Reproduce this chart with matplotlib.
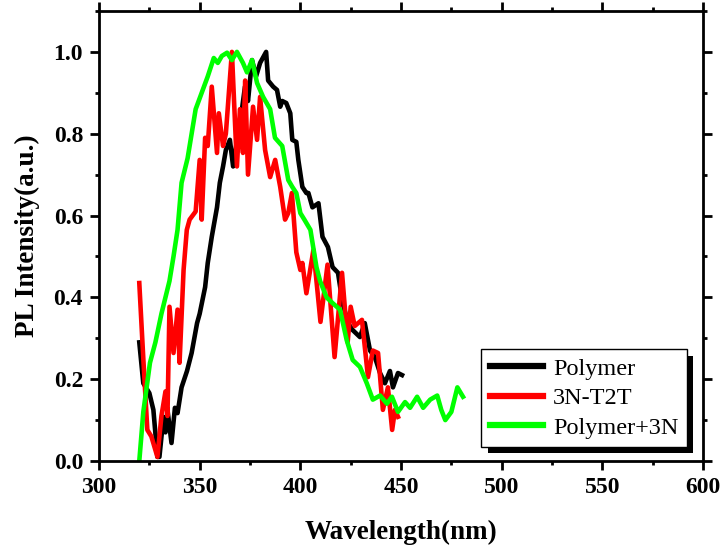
import matplotlib
matplotlib.use("Agg")
import matplotlib.pyplot as plt
import matplotlib.patheffects as pe
from matplotlib.ticker import MultipleLocator

plt.rcParams['font.family'] = ['Liberation Serif', 'DejaVu Serif']

# Polymer
poly_x = [320, 322, 325, 327, 329, 330, 332, 333, 334, 336, 337.7, 339, 341, 343.7, 346,
          348.7, 350, 352.7, 354, 356, 358.6, 360, 361.6, 363, 365, 366.6, 369, 371, 372.5,
          374, 376, 378, 380, 383, 384, 386.5, 388.4, 390, 391, 393, 395, 396, 398, 399,
          401, 403, 404, 406, 409, 411, 413.7, 416, 418.7, 421, 423.7, 426, 429.6, 432,
          434.6, 437, 439.6, 442, 444.5, 446, 448.5, 450.5]
poly_y = [0.29, 0.19, 0.166, 0.125, 0.01, 0.01, 0.107, 0.07, 0.125, 0.044, 0.13, 0.117, 0.18,
          0.22, 0.264, 0.337, 0.36, 0.425, 0.484, 0.548, 0.62, 0.68, 0.72, 0.76, 0.785, 0.72,
          0.80, 0.86, 0.915, 0.88, 0.98, 0.94, 0.973, 1.0, 0.93, 0.915, 0.907, 0.866, 0.88,
          0.875, 0.85, 0.785, 0.78, 0.736, 0.67, 0.655, 0.655, 0.62, 0.63, 0.548, 0.523,
          0.474, 0.46, 0.386, 0.337, 0.32, 0.303, 0.337, 0.27, 0.254, 0.215, 0.19, 0.22,
          0.18, 0.215, 0.21]

# 3N-T2T
t2t_x = [320, 322, 324, 326, 329, 331, 333, 334, 335, 337, 339, 340, 342, 343.6, 345, 348,
         350, 351, 352.7, 354, 356, 358.6, 359.5, 361.6, 363, 366, 368.5, 370, 371.5, 372.6,
         374, 376.5, 378.5, 380, 382.5, 385, 387.5, 390, 392.4, 394, 395.8, 398, 400, 401,
         403, 406.5, 410, 413.5, 417, 420.7, 423.5, 425, 427, 430.6, 433.6, 436, 438.6, 441,
         443.5, 445.6, 447, 448.5]
t2t_y = [0.435, 0.25, 0.076, 0.06, 0.01, 0.11, 0.17, 0.11, 0.377, 0.264, 0.37, 0.24, 0.467,
         0.565, 0.59, 0.61, 0.736, 0.59, 0.79, 0.77, 0.915, 0.753, 0.85, 0.77, 0.80, 1.0,
         0.72, 0.86, 0.753, 0.93, 0.70, 0.866, 0.785, 0.89, 0.76, 0.694, 0.736, 0.67, 0.59,
         0.606, 0.655, 0.51, 0.467, 0.484, 0.41, 0.516, 0.34, 0.48, 0.254, 0.46, 0.29, 0.377,
         0.33, 0.345, 0.205, 0.27, 0.264, 0.125, 0.18, 0.076, 0.125, 0.108]

# Polymer+3N
mix_x = [320, 322, 325.3, 328, 331, 333, 335, 337, 339, 341, 344, 346, 348, 351, 354, 357,
         359, 361, 363.6, 366, 368.5, 371.5, 373.5, 376, 378.5, 381.5, 385, 387.4, 391, 394,
         396, 398, 400, 402, 405, 408, 409.8, 413, 416, 419.7, 423, 426, 429.6, 433, 436,
         439.6, 443, 445.5, 448.5, 452, 454.5, 458, 461, 464.5, 468, 470, 472, 475, 478,
         480.8]
mix_y = [0.0, 0.12, 0.24, 0.29, 0.36, 0.40, 0.44, 0.50, 0.565, 0.68, 0.74, 0.80, 0.86, 0.90,
         0.94, 0.985, 0.973, 0.99, 0.998, 0.98, 1.0, 0.973, 0.95, 0.98, 0.924, 0.89, 0.86,
         0.79, 0.77, 0.687, 0.67, 0.655, 0.606, 0.59, 0.565, 0.474, 0.44, 0.40, 0.386, 0.37,
         0.296, 0.247, 0.23, 0.19, 0.15, 0.16, 0.14, 0.157, 0.12, 0.144, 0.13, 0.157, 0.13,
         0.15, 0.16, 0.125, 0.10, 0.12, 0.18, 0.157]

fig = plt.figure(figsize=(7.26, 5.49), dpi=100)
ax = fig.add_axes([0.1364, 0.1603, 0.8319, 0.8197])

ax.plot(poly_x, poly_y, color='black', lw=3.3, label='Polymer')
ax.plot(t2t_x, t2t_y, color='#ff0000', lw=3.3, label='3N-T2T')
ax.plot(mix_x, mix_y, color='#00ff00', lw=3.3, label='Polymer+3N')

ax.set_xlim(300, 600)
ax.set_ylim(0, 1.1)
ax.xaxis.set_major_locator(MultipleLocator(50))
ax.xaxis.set_minor_locator(MultipleLocator(25))
ax.yaxis.set_major_locator(MultipleLocator(0.2))
ax.yaxis.set_minor_locator(MultipleLocator(0.1))
ax.yaxis.set_major_formatter(lambda v, p: f"{v:.1f}")

for s in ax.spines.values():
    s.set_linewidth(2)
ax.tick_params(which='both', direction='out', width=2, labelsize=17, pad=5)
ax.tick_params(which='major', length=6.5)
ax.tick_params(which='minor', length=3)
ax.tick_params(which='both', top=True, right=True)
for lab in ax.get_xticklabels() + ax.get_yticklabels():
    lab.set_fontweight('bold')

ax.set_xlabel('Wavelength(nm)', fontsize=19.5, fontweight='bold', labelpad=16)
ax.set_ylabel('PL Intensity(a.u.)', fontsize=19.5, fontweight='bold', labelpad=10)

leg = ax.legend(loc='lower right', bbox_to_anchor=(0.9735, 0.031), fontsize=17.5,
                frameon=True, fancybox=False, shadow=False, framealpha=1,
                handlelength=2.2, handletextpad=0.4, borderpad=0.35,
                labelspacing=0.3, borderaxespad=0)
frame = leg.get_frame()
frame.set_edgecolor('black')
frame.set_linewidth(1)
frame.set_path_effects([pe.SimplePatchShadow(offset=(4.5, -4.5), shadow_rgbFace='black', alpha=1),
                        pe.Normal()])
for line in leg.get_lines():
    line.set_linewidth(4.5)

fig.savefig('out.png', dpi=100)
